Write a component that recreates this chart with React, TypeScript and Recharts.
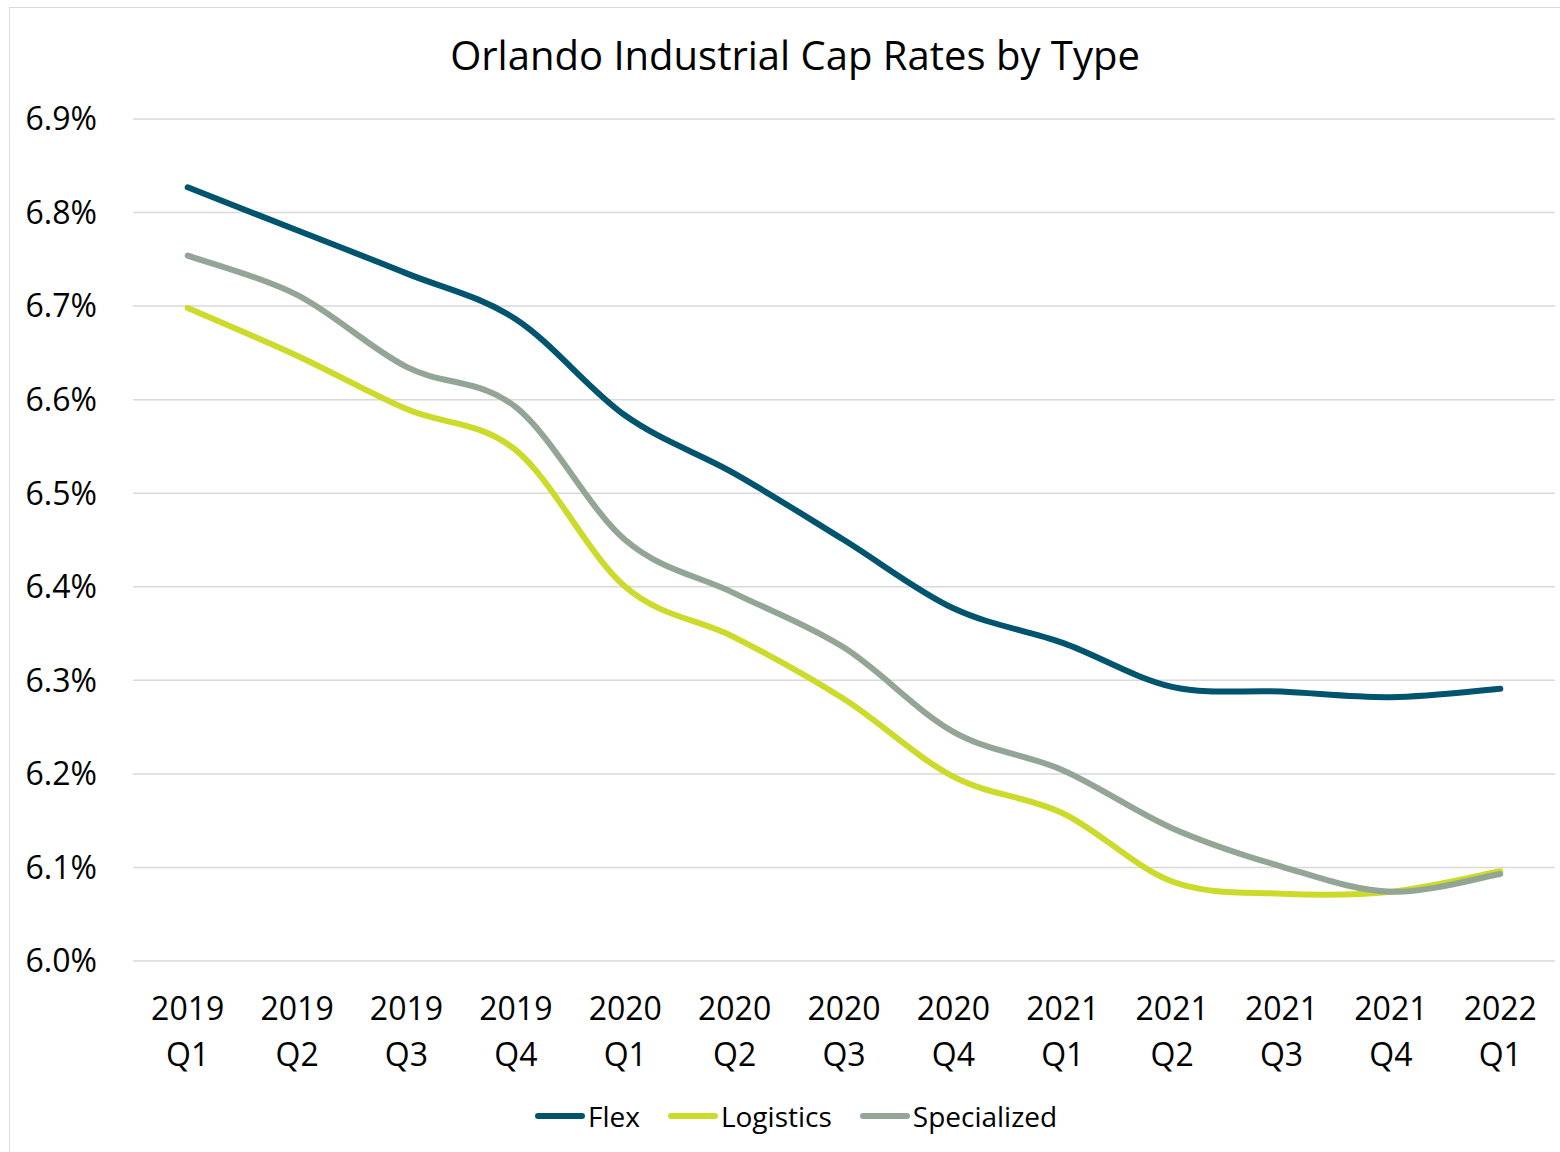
import React from 'react';
import { LineChart, Line, XAxis, YAxis, CartesianGrid, Legend } from 'recharts';

// Quarterly cap rates (%) by industrial property type
const quarters = [
  '2019 Q1', '2019 Q2', '2019 Q3', '2019 Q4',
  '2020 Q1', '2020 Q2', '2020 Q3', '2020 Q4',
  '2021 Q1', '2021 Q2', '2021 Q3', '2021 Q4',
  '2022 Q1',
];
const flex = [6.827, 6.781, 6.735, 6.686, 6.583, 6.521, 6.45, 6.377, 6.34, 6.293, 6.288, 6.282, 6.291];
const logistics = [6.698, 6.647, 6.59, 6.546, 6.4, 6.346, 6.28, 6.197, 6.158, 6.085, 6.072, 6.074, 6.096];
const specialized = [6.754, 6.712, 6.635, 6.592, 6.45, 6.393, 6.335, 6.245, 6.204, 6.142, 6.101, 6.074, 6.093];
const yTicks = [6.0, 6.1, 6.2, 6.3, 6.4, 6.5, 6.6, 6.7, 6.8, 6.9];

const seriesNames = ['Flex', 'Logistics', 'Specialized'];
const seriesColors = ['#00546E', '#CCDB2A', '#93A696'];

const data = quarters.map((q, i) => ({
  quarter: q,
  Flex: flex[i],
  Logistics: logistics[i],
  Specialized: specialized[i],
}));

const FONT = '"Open Sans", sans-serif';
const LEGEND_HEIGHT = 40;

// Spreadsheet-style smoothed line: uniform Catmull-Rom segments as cubic Beziers
function smoothCurve(context: any) {
  let pts: [number, number][] = [];
  return {
    areaStart() {},
    areaEnd() {},
    lineStart() {
      pts = [];
    },
    point(x: number, y: number) {
      pts.push([+x, +y]);
    },
    lineEnd() {
      const n = pts.length;
      if (!n) return;
      context.moveTo(pts[0][0], pts[0][1]);
      for (let i = 0; i < n - 1; i++) {
        const p0 = pts[Math.max(0, i - 1)];
        const p1 = pts[i];
        const p2 = pts[i + 1];
        const p3 = pts[Math.min(n - 1, i + 2)];
        context.bezierCurveTo(
          p1[0] + (p2[0] - p0[0]) / 6,
          p1[1] + (p2[1] - p0[1]) / 6,
          p2[0] - (p3[0] - p1[0]) / 6,
          p2[1] - (p3[1] - p1[1]) / 6,
          p2[0],
          p2[1],
        );
      }
    },
  };
}

function QuarterTick(props: any) {
  const { x, y, payload } = props;
  const [year, q] = String(payload.value).split(' ');
  return (
    <g>
      <text x={x} y={y + 59} textAnchor="middle" fontFamily={FONT} fontSize={32} fill="#000">
        {year}
      </text>
      <text x={x} y={y + 105} textAnchor="middle" fontFamily={FONT} fontSize={32} fill="#000">
        {q}
      </text>
    </g>
  );
}

function LegendContent() {
  return (
    <div
      style={{
        display: 'flex',
        alignItems: 'center',
        marginLeft: 535,
        height: LEGEND_HEIGHT,
        fontFamily: FONT,
        fontSize: 28,
        color: '#000',
        lineHeight: `${LEGEND_HEIGHT}px`,
      }}
    >
      {seriesNames.map((name, i) => (
        <div key={name} style={{ display: 'flex', alignItems: 'center', marginRight: i < seriesNames.length - 1 ? 28 : 0 }}>
          <div
            style={{
              width: 50,
              height: 6,
              borderRadius: 3,
              background: seriesColors[i],
              marginRight: 3,
            }}
          />
          <span>{name}</span>
        </div>
      ))}
    </div>
  );
}

export default function App() {
  return (
    <div
      style={{
        position: 'fixed',
        left: 0,
        top: 0,
        width: 1560,
        height: 1152,
        background: '#fff',
        overflow: 'hidden',
      }}
    >
      <div
        style={{
          position: 'absolute',
          left: 9,
          top: 7,
          width: 1600,
          height: 1200,
          border: '1.5px solid #D9D9D9',
        }}
      />
      <div
        style={{
          position: 'absolute',
          left: 0,
          top: 28,
          width: 1590,
          textAlign: 'center',
          fontFamily: FONT,
          fontSize: 40,
          lineHeight: '54px',
          color: '#000',
        }}
      >
        Orlando Industrial Cap Rates by Type
      </div>
      <div style={{ position: 'absolute', left: 0, top: 0 }}>
        <LineChart
          width={1560}
          height={1152}
          data={data}
          margin={{ top: 119, right: 5, bottom: 0, left: 0 }}
        >
          <CartesianGrid vertical={false} stroke="#D9D9D9" strokeWidth={1.5} />
          <XAxis
            dataKey="quarter"
            axisLine={false}
            tickLine={false}
            tickSize={0}
            tickMargin={0}
            interval={0}
            padding={{ left: 54.7, right: 54.7 }}
            tick={<QuarterTick />}
            height={191 - LEGEND_HEIGHT}
          />
          <YAxis
            type="number"
            domain={[6.0, 6.9]}
            ticks={yTicks}
            allowDataOverflow
            axisLine={false}
            tickLine={false}
            tickSize={0}
            tickMargin={36}
            width={133}
            tickFormatter={(v: number) => `${v.toFixed(1)}%`}
            tick={{ fontFamily: FONT, fontSize: 32, fill: '#000' }}
          />
          {seriesNames.map((name, i) => (
            <Line
              key={name}
              dataKey={name}
              type={smoothCurve as any}
              stroke={seriesColors[i]}
              strokeWidth={6}
              strokeLinecap="round"
              dot={false}
              activeDot={false}
              isAnimationActive={false}
            />
          ))}
          <Legend
            content={<LegendContent />}
            wrapperStyle={{ position: 'absolute', top: 1096, left: 0, width: 1560 }}
          />
        </LineChart>
      </div>
    </div>
  );
}
